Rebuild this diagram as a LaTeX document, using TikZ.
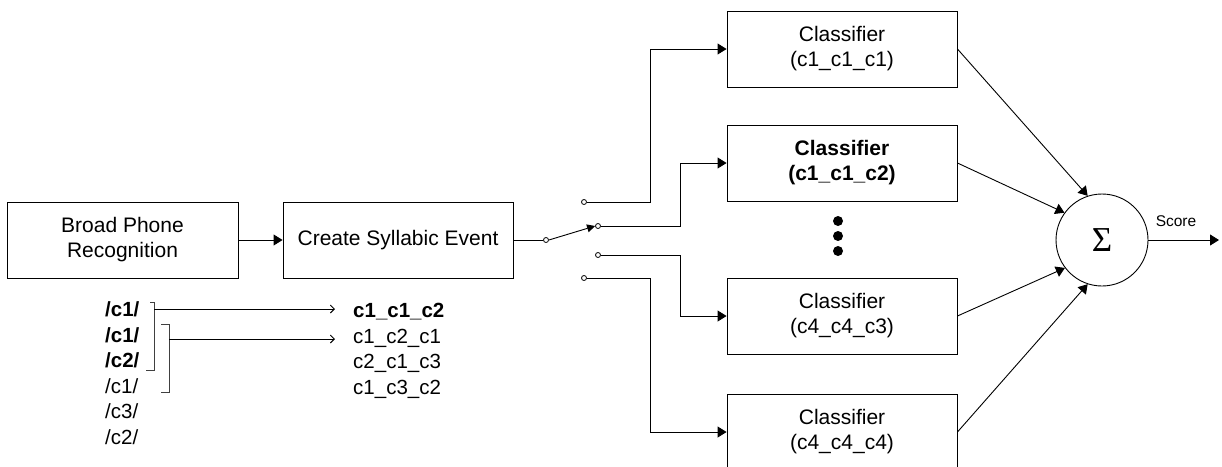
\documentclass[tikz,border=0pt]{standalone}
\usepackage{fontspec}
\setmainfont{Liberation Sans}
\newfontfamily\sigmafont{Liberation Serif}
\usetikzlibrary{arrows.meta,calc}

\tikzset{
  blk/.style={draw, line width=0.9pt, minimum width=230pt, minimum height=76pt,
              align=center, inner sep=0pt, font=\fontsize{21}{25}\selectfont},
  wire/.style={line width=0.9pt},
  arr/.style={wire, -{Triangle[length=9pt,width=11pt]}},
  thin arr/.style={wire, -{Straight Barb[length=4pt,width=8pt]}},
  contact/.style={circle, draw, fill=white, line width=0.8pt, minimum size=5pt, inner sep=0pt},
  bullet/.style={circle, fill=black, minimum size=10pt, inner sep=0pt},
  lbl/.style={inner sep=0pt, anchor=base west, font=\fontsize{20.5}{25}\selectfont},
  brk/.style={line width=0.9pt, draw=black!75},
}

\begin{document}
\begin{tikzpicture}[x=1pt, y=-1pt]
\useasboundingbox (0,0) rectangle (1222,466);

% front end
\node[blk, minimum width=231pt] (bpr) at (122.5,240) {Broad Phone\\Recognition};
\node[blk] (cse) at (398,240) {Create Syllabic Event};
\draw[arr] (bpr.east) -- (cse.west);

% selector switch
\node[contact] (pv) at (546,240) {};
\node[contact] (k1) at (584,202) {};
\node[contact] (k2) at (598,226) {};
\node[contact] (k3) at (598,255) {};
\node[contact] (k4) at (584,278) {};
\draw[wire] (cse.east) -- (pv.west);
\draw[wire, -{Triangle[length=8pt,width=8pt]}] (pv.east) -- (k2.west);

% classifiers
\node[blk] (c1) at (842,49)  {Classifier\\(c1\_c1\_c1)};
\node[blk, font=\fontsize{21}{25}\selectfont\bfseries] (c2) at (842,163) {Classifier\\(c1\_c1\_c2)};
\node[blk] (c3) at (842,316) {Classifier\\(c4\_c4\_c3)};
\node[blk] (c4) at (842,432) {Classifier\\(c4\_c4\_c4)};

\node[bullet] (d1) at (838,221) {};
\node[bullet] (d2) at (838,236) {};
\node[bullet] (d3) at (838,251) {};

\draw[arr] (k1.east) -| ([xshift=-76pt]c1.west) -- (c1.west);
\draw[arr] (k2.east) -| ([xshift=-46pt]c2.west) -- (c2.west);
\draw[arr] (k3.east) -| ([xshift=-46pt]c3.west) -- (c3.west);
\draw[arr] (k4.east) -| ([xshift=-76pt]c4.west) -- (c4.west);

% summation
\node[circle, draw, line width=0.9pt, minimum size=92pt, inner sep=0pt,
      font=\sigmafont\fontsize{35}{36}\selectfont] (sum) at (1102,240) {Σ};
\draw[arr] (c1.east) -- (sum.108);
\draw[arr] (c2.east) -- (sum.144);
\draw[arr] (c3.east) -- (sum.217);
\draw[arr] (c4.east) -- (sum.252);

\coordinate (out) at (1219,240);
\draw[arr] (sum.east) -- (out);
\node[inner sep=0pt, font=\fontsize{15.5}{18}\selectfont] (score) at (1176,221) {Score};

% phone sequence
\node[lbl, font=\fontsize{20.5}{25}\selectfont\bfseries] (p1) at (105,316) {/c1/};
\node[lbl, font=\fontsize{20.5}{25}\selectfont\bfseries] (p2) at (105,342) {/c1/};
\node[lbl, font=\fontsize{20.5}{25}\selectfont\bfseries] (p3) at (105,367) {/c2/};
\node[lbl] (p4) at (105,393) {/c1/};
\node[lbl] (p5) at (105,418) {/c3/};
\node[lbl] (p6) at (105,444) {/c2/};

% syllable list
\node[lbl, font=\fontsize{20.5}{25}\selectfont\bfseries] (s1) at (353,317) {c1\_c1\_c2};
\node[lbl] (s2) at (353,343) {c1\_c2\_c1};
\node[lbl] (s3) at (353,368) {c2\_c1\_c3};
\node[lbl] (s4) at (353,394) {c1\_c3\_c2};

% grouping brackets
\coordinate (b1) at (154,309);
\coordinate (b2) at (169,339);
\draw[brk] (150,302) -- (154,302) -- (154,370) -- (146,370);
\draw[brk] (161,324) -- (169,324) -- (169,392) -- (161,392);
\draw[thin arr, shorten >=18pt] (b1) -- (b1 -| s1.west);
\draw[thin arr, shorten >=18pt] (b2) -- (b2 -| s2.west);
\end{tikzpicture}
\end{document}
